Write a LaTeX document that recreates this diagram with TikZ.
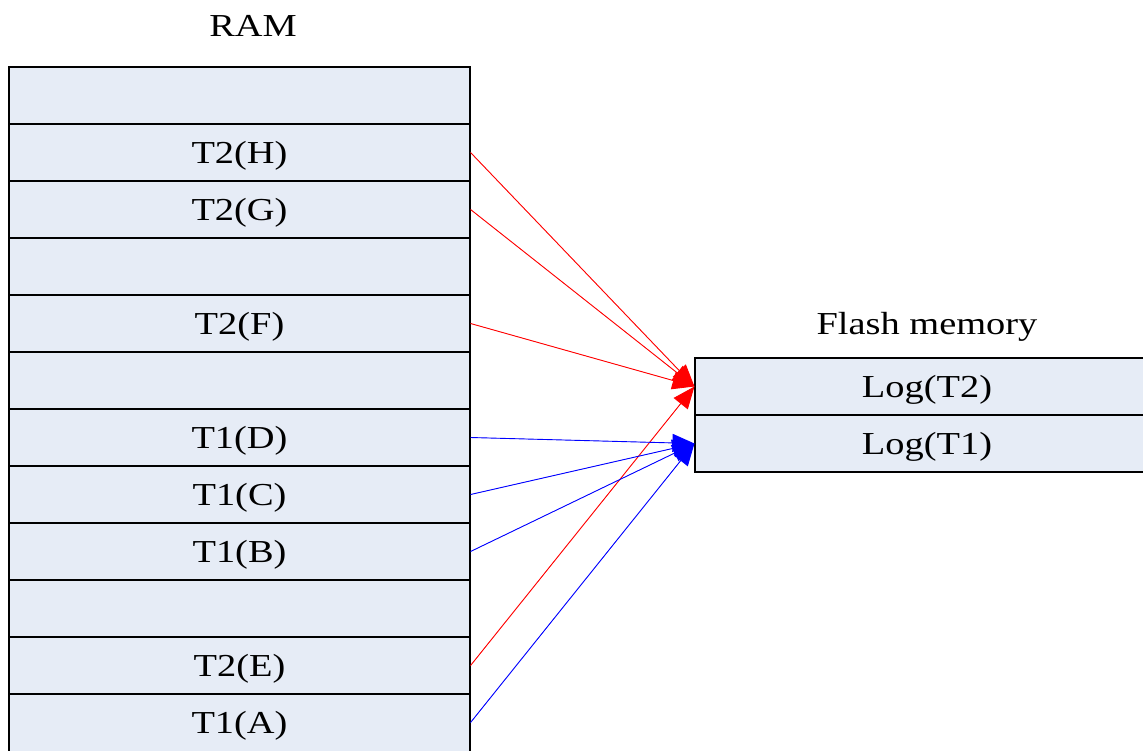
\documentclass[tikz,border=0pt]{standalone}
\usepackage{fontspec}
\setmainfont{Liberation Serif}[FakeStretch=1.2]
\usetikzlibrary{arrows.meta}
\definecolor{cellfill}{RGB}{230,236,246}
\definecolor{tored}{RGB}{255,0,0}
\definecolor{toblue}{RGB}{0,0,255}
\begin{document}
\begin{tikzpicture}[x=1pt,y=-1pt,
  txt/.style={font=\fontsize{32}{36}\selectfont, inner sep=0pt, text height=21pt, text depth=0pt},
  cell/.style={txt, draw=black, line width=1.1pt, fill=cellfill,
    minimum width=461pt, minimum height=57pt},
  fcell/.style={cell, minimum width=464pt},
  logarrow/.style={line width=0.9pt, -{Triangle[length=22pt,width=18pt]}},
]
\useasboundingbox (0,0) rectangle (1143,750);

% RAM column
\node[txt] (ramlabel) at (253,26) {RAM};
\node[cell] (r1)  at (239.5, 95.5) {};
\node[cell] (r2)  at (239.5,152.5) {T2(H)};
\node[cell] (r3)  at (239.5,209.5) {T2(G)};
\node[cell] (r4)  at (239.5,266.5) {};
\node[cell] (r5)  at (239.5,323.5) {T2(F)};
\node[cell] (r6)  at (239.5,380.5) {};
\node[cell] (r7)  at (239.5,437.5) {T1(D)};
\node[cell] (r8)  at (239.5,494.5) {T1(C)};
\node[cell] (r9)  at (239.5,551.5) {T1(B)};
\node[cell] (r10) at (239.5,608.5) {};
\node[cell] (r11) at (239.5,665.5) {T2(E)};
% the last cell runs past the lower edge of the page
\node[cell, minimum height=60pt] (r12) at (239.5,724) {};
\node[txt] (r12t) at (239.5,722.5) {T1(A)};

% Flash memory column
\node[txt] (flashlabel) at (927,323.5) {Flash memory};
\node[fcell] (f1) at (927,386.5) {Log(T2)};
\node[fcell] (f2) at (927,443.5) {Log(T1)};

% T2 writes
\foreach \r in {r2,r3,r5,r11}
  \draw[logarrow, draw=tored, fill=tored] (\r.east) -- (f1.west);
% T1 writes
\foreach \r in {r7,r8,r9}
  \draw[logarrow, draw=toblue, fill=toblue] (\r.east) -- (f2.west);
\draw[logarrow, draw=toblue, fill=toblue] (r12.east |- r12t) -- (f2.west);
\end{tikzpicture}
\end{document}
